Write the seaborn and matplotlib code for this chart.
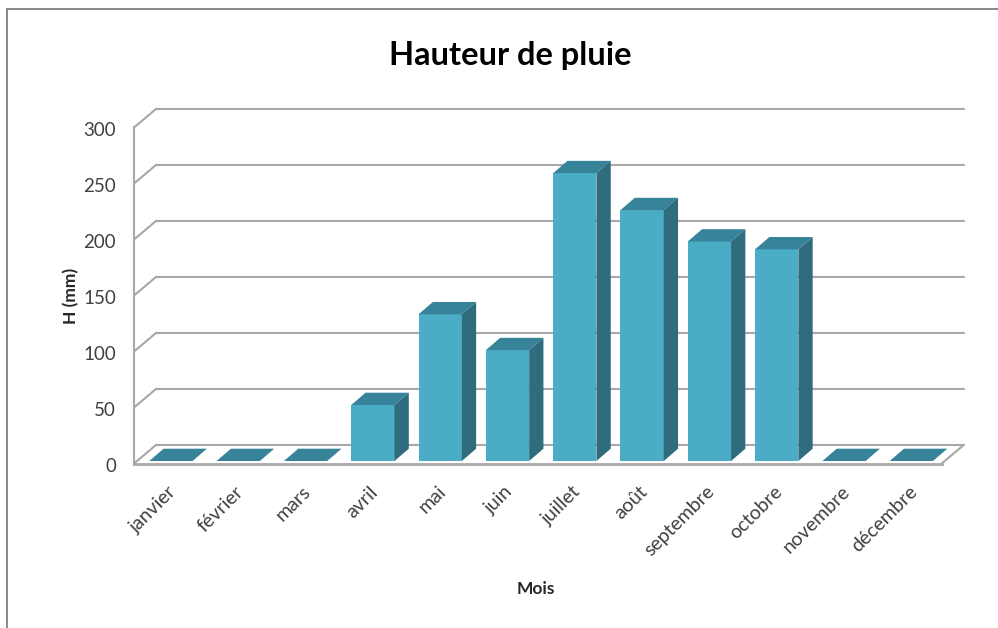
import matplotlib
matplotlib.use("Agg")
import matplotlib.pyplot as plt
from matplotlib.lines import Line2D
from matplotlib.patches import Polygon
from matplotlib.transforms import ScaledTranslation
import pandas as pd
import seaborn as sns

mois = ["janvier", "février", "mars", "avril", "mai", "juin", "juillet",
        "août", "septembre", "octobre", "novembre", "décembre"]
hauteur = [0, 0, 0, 50, 131, 99, 257, 224, 196, 189, 0, 0]
graduations = [0, 50, 100, 150, 200, 250, 300]

sns.set_theme(style="white")
plt.rcParams['font.family'] = ['Lato', 'DejaVu Sans']

GRIS = "#a8a8a8"
TEXTE = "#404040"
FACE = "#4bacc6"
DESSUS = "#37839a"
COTE = "#2f6c7e"

# pixels par unite sur chaque axe
PX_X = 807.7 / 12
PX_Y = 336 / 300

# profondeur du plancher et des barres, en unites de donnees
SOL_X, SOL_Y = 22 / PX_X, 18.5 / PX_Y
BARRE_X, BARRE_Y = 14.3 / PX_X, 12.3 / PX_Y
DEPART_X, DEPART_Y = 3.3 / PX_X, 2.5 / PX_Y

df = pd.DataFrame({"Mois": mois, "H": hauteur})

fig = plt.figure(figsize=(9.98, 6.28), dpi=100)
ax = fig.add_axes([134 / 998, (628 - 463.5) / 628, 807.7 / 998, 336 / 628])
ax.patch.set_alpha(0)

sns.barplot(data=df, x="Mois", y="H", color=FACE, saturation=1, width=0.643,
            linewidth=0, edgecolor="none", ax=ax, zorder=3)
ax.set_xlim(-0.5, 11.5)
ax.set_ylim(0, 300)

# murs : lignes du fond et diagonales
for v in graduations:
    ax.plot([-0.5, -0.5 + SOL_X], [v, v + SOL_Y], color=GRIS, lw=1.5, clip_on=False, zorder=1)
    ax.plot([-0.5 + SOL_X, 11.5 + SOL_X], [v + SOL_Y, v + SOL_Y], color=GRIS, lw=1.5, clip_on=False, zorder=1)
ax.plot([11.5, 11.5 + SOL_X], [0, SOL_Y], color=GRIS, lw=1.5, clip_on=False, zorder=1)

# effet 3D des barres, construit a partir des barres de seaborn
for barre in ax.patches[:len(mois)]:
    x0, w, h = barre.get_x(), barre.get_width(), barre.get_height()
    x0 += DEPART_X
    barre.set_x(x0)
    barre.set_y(DEPART_Y)
    barre.set_clip_on(False)
    haut = DEPART_Y + h
    ax.add_patch(Polygon([(x0, haut), (x0 + w, haut), (x0 + w + BARRE_X, haut + BARRE_Y), (x0 + BARRE_X, haut + BARRE_Y)],
                         closed=True, fc=DESSUS, ec="none", clip_on=False, zorder=3))
    if h > 0:
        ax.add_patch(Polygon([(x0 + w, DEPART_Y), (x0 + w, haut), (x0 + w + BARRE_X, haut + BARRE_Y), (x0 + w + BARRE_X, DEPART_Y + BARRE_Y)],
                             closed=True, fc=COTE, ec="none", clip_on=False, zorder=3))

sns.despine(ax=ax, top=True, right=True)
ax.spines["left"].set_color(GRIS)
ax.spines["left"].set_linewidth(1.5)
ax.spines["bottom"].set_color(GRIS)
ax.spines["bottom"].set_linewidth(2)

ax.set_yticks(graduations)
ax.tick_params(axis="y", length=0, pad=13, labelsize=13.5, labelcolor=TEXTE)
ax.tick_params(axis="x", length=0, pad=14, labelsize=14, labelcolor=TEXTE)
plt.setp(ax.get_xticklabels(), rotation=45, ha="right", rotation_mode="anchor")

# les graduations sont un peu plus bas que les lignes
decale = ScaledTranslation(0, -2 / 100, fig.dpi_scale_trans)
for lab in ax.get_yticklabels():
    lab.set_transform(lab.get_transform() + decale)

ax.set_xlabel("Mois", fontsize=12.5, fontweight="bold", color="#262626", va="center")
ax.xaxis.set_label_coords(0.498, -0.3735)
ax.set_ylabel("H (mm)", fontsize=12.5, fontweight="bold", color="#262626", va="center")
ax.yaxis.set_label_coords(-0.0775, 0.4985)

fig.suptitle("Hauteur de pluie", x=510 / 998, y=1 - 55 / 628, ha="center", va="center",
             fontsize=23.5, fontweight="bold", color="black")

# cadre du graphique, coupe en haut et a droite par la capture
cadre = "#7f7f7f"
fig.add_artist(Line2D([6.5 / 998, 6.5 / 998], [0, 1 - 9 / 628], color=cadre, lw=1.3))
fig.add_artist(Line2D([6.5 / 998, 1], [1 - 9 / 628, 1 - 9 / 628], color=cadre, lw=1.3))

fig.savefig("out.png", dpi=100)
